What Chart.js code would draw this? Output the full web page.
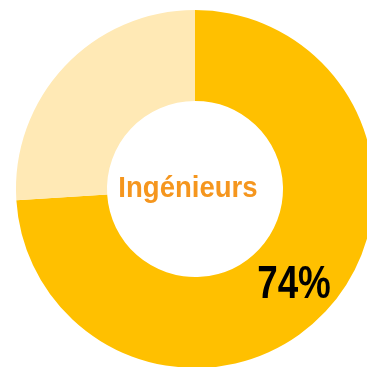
<!DOCTYPE html>
<html>
<head>
<meta charset="utf-8">
<script src="https://cdn.jsdelivr.net/npm/chart.js@4"></script>
<style>
  html, body { margin: 0; padding: 0; width: 367px; height: 367px; overflow: hidden; background: #ffffff; }
  #wrap { position: absolute; left: -5px; top: -11px; width: 400px; height: 400px; }
</style>
</head>
<body>
<div id="wrap"><canvas id="c" width="400" height="400"></canvas></div>
<script>
// Share of engineers vs. the rest
const categories = ['Ingénieurs', 'Autres'];
const shares = [74, 26];
const centerLabel = 'Ingénieurs';

// Draws text squeezed horizontally to get a condensed face
function condensedText(ctx, text, x, y, squeeze) {
  ctx.save();
  ctx.translate(x, y);
  ctx.scale(squeeze, 1);
  ctx.fillText(text, 0, 0);
  ctx.restore();
}

// Writes the group name in the hole and the percentage on the large slice
const ringLabels = {
  id: 'ringLabels',
  afterDraw(chart) {
    const arc = chart.getDatasetMeta(0).data[0];
    const ctx = chart.ctx;
    const cx = arc.x, cy = arc.y;
    ctx.save();
    ctx.textAlign = 'center';
    ctx.textBaseline = 'alphabetic';
    ctx.fillStyle = '#F5961E';
    ctx.font = 'bold 29px "Liberation Sans", Arial, sans-serif';
    condensedText(ctx, centerLabel, cx - 7, cy + 8, 0.95);
    ctx.fillStyle = '#000000';
    ctx.font = 'bold 46px "Liberation Sans", Arial, sans-serif';
    condensedText(ctx, shares[0] + '%', cx + 99, cy + 109, 0.8);
    ctx.restore();
  }
};

new Chart(document.getElementById('c'), {
  type: 'doughnut',
  data: {
    labels: categories,
    datasets: [{
      data: shares,
      backgroundColor: ['#FFC000', '#FFE9B5'],
      borderWidth: 0,
      hoverOffset: 0
    }]
  },
  options: {
    responsive: false,
    animation: false,
    cutout: 88,
    layout: { padding: 21 },
    plugins: {
      legend: { display: false },
      tooltip: { enabled: false }
    }
  },
  plugins: [ringLabels]
});
</script>
</body>
</html>
